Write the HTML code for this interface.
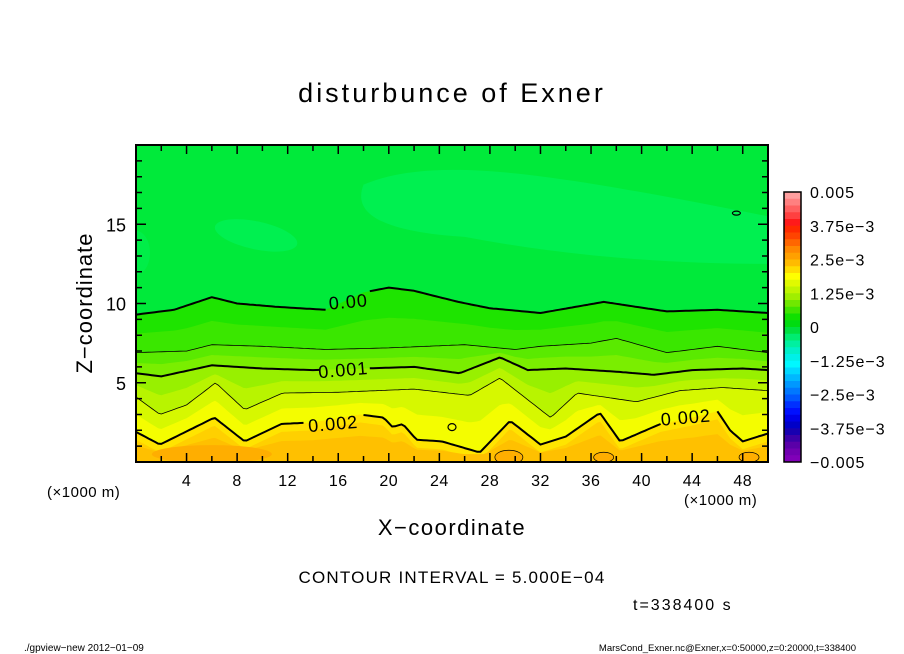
<!DOCTYPE html>
<html><head><meta charset="utf-8"><style>
html,body{margin:0;padding:0;background:#fff;}
svg{display:block;font-family:"Liberation Sans",sans-serif;}
</style></head><body>
<svg id="chart" width="904" height="654" viewBox="0 0 904 654" xmlns="http://www.w3.org/2000/svg">
<defs><clipPath id="pclip"><rect x="136" y="145" width="632" height="317"/></clipPath></defs>
<text x="452" y="102" font-size="27" text-anchor="middle" letter-spacing="3">disturbunce of Exner</text>
<g id="plot" clip-path="url(#pclip)"></g>
<g id="axes"></g>
<g id="cbar"></g>
<text transform="translate(92,303) rotate(-90)" font-size="22" text-anchor="middle" letter-spacing="1">Z−coordinate</text>
<text x="452" y="535" font-size="22" text-anchor="middle" letter-spacing="1.5">X−coordinate</text>
<text x="47" y="497" font-size="15" letter-spacing="0.5">(×1000 m)</text>
<text x="684" y="505" font-size="15" letter-spacing="0.5">(×1000 m)</text>
<text x="452" y="583" font-size="17" text-anchor="middle" letter-spacing="1.2">CONTOUR INTERVAL = 5.000E−04</text>
<text x="633" y="610" font-size="16" letter-spacing="2">t=338400 s</text>
<text x="24" y="651" font-size="10">./gpview−new  2012−01−09</text>
<text x="856" y="651" font-size="9.5" text-anchor="end">MarsCond_Exner.nc@Exner,x=0:50000,z=0:20000,t=338400</text>
</svg>
<script>
// contour line data (x in km, z in km)
const c000X = [0, 3, 6, 8, 11, 15, 18, 20, 22, 25.5, 28, 32, 37, 42, 46, 50];
const c000Z = [9.3, 9.6, 10.4, 10.0, 9.8, 9.6, 10.7, 11.0, 10.8, 10.1, 9.7, 9.4, 10.1, 9.5, 9.6, 9.4];
const c0005X = [0, 4, 6, 10, 15, 20, 26, 30, 32, 36, 38, 42, 46, 50];
const c0005Z = [6.9, 7.0, 7.4, 7.3, 7.1, 7.2, 7.4, 7.1, 7.3, 7.5, 7.8, 6.9, 7.3, 6.9];
const c001X = [0, 2, 6, 10, 14, 18, 22, 25.6, 28.8, 31, 34, 38, 41, 44, 48, 50];
const c001Z = [5.6, 5.4, 6.1, 5.9, 5.8, 5.9, 6.0, 5.6, 6.6, 5.8, 5.9, 5.7, 5.5, 5.8, 5.9, 5.8];
const c0015X = [0, 1.9, 4, 6.3, 8.6, 11.6, 16, 22, 26.4, 28.8, 32.8, 34.9, 39.6, 43, 46.4, 50];
const c0015Z = [4.1, 3.0, 3.6, 5.0, 3.3, 4.35, 4.4, 4.6, 4.2, 5.3, 2.8, 4.35, 3.8, 4.5, 4.7, 4.5];
const c002X = [0, 1.9, 6.2, 8.6, 11.5, 14, 17.7, 19.6, 20.3, 21.1, 22.2, 24.2, 27.2, 29.6, 32, 34, 36.7, 38.3, 41.5, 44, 46, 47, 48, 50];
const c002Z = [1.9, 1.1, 2.8, 1.3, 2.4, 2.5, 3.0, 2.8, 2.2, 2.4, 1.4, 1.3, 0.6, 2.6, 1.1, 1.6, 3.1, 1.3, 2.4, 2.8, 3.2, 2.0, 1.3, 1.8];
const labelText = ["0.00", "0.001", "0.002", "0.002"];
const labelX = [16.8, 16.4, 15.6, 43.5];
const labelZ = [10.1, 5.8, 2.4, 2.8];
const xTicks = [4, 8, 12, 16, 20, 24, 28, 32, 36, 40, 44, 48];
const zTicks = [5, 10, 15];
const cbLabels = ["0.005", "3.75e−3", "2.5e−3", "1.25e−3", "0", "−1.25e−3", "−2.5e−3", "−3.75e−3", "−0.005"];
const cbColors = ["#ff9f9f","#ff8080","#ff6060","#ff4040","#ff1a1a","#ff2a00","#ff4400","#ff6600",
  "#ff8800","#ffa000","#ffbb00","#ffdd00","#ffff00","#e0fa00","#c0f500","#a0ee00",
  "#70e800","#40e400","#10e000","#00dc10","#00e040","#00ec70","#00f0a0","#00f0c8",
  "#00f0e8","#00f8ff","#00d8ff","#00b8ff","#0098ff","#0078ff","#0058ff","#0030ff",
  "#0010ff","#0000e8","#0000c8","#1800b0","#3c00a8","#5a00a8","#7000b0","#8000b8"];

const NS = "http://www.w3.org/2000/svg";
const X0 = 136, X1 = 768, Y0 = 462, Y1 = 145;
const sx = v => X0 + (v / 50) * (X1 - X0);
const sz = v => Y0 - (v / 20) * (Y0 - Y1);
function interp(xa, za, x) {
  for (let i = 0; i < xa.length - 1; i++) {
    if (x <= xa[i + 1]) { const t = (x - xa[i]) / (xa[i + 1] - xa[i]); return za[i] + t * (za[i + 1] - za[i]); }
  }
  return za[za.length - 1];
}
function mk(tag, attrs, parent) { const e = document.createElementNS(NS, tag); for (const k in attrs) e.setAttribute(k, attrs[k]); parent.appendChild(e); return e; }
const plot = document.getElementById("plot");
const grid = []; for (let x = 0; x <= 50.001; x += 0.25) grid.push(x);
const lines = [[c000X, c000Z], [c0005X, c0005Z], [c001X, c001Z], [c0015X, c0015Z], [c002X, c002Z]];
const lf = l => x => interp(l[0], l[1], x);
const fns = lines.map(lf);

let bg = mk("rect", {x: X0, y: Y1, width: X1 - X0, height: Y0 - Y1, fill: "#00ea3a"}, plot);


let p1 = mk("path", {d: `M${sx(18)},${sz(17.5)} C${sx(24)},${sz(19.5)} ${sx(34)},${sz(18)} ${sx(50)},${sz(15.5)} L${sx(50)},${sz(12.5)} C${sx(42)},${sz(12.5)} ${sx(34)},${sz(13)} ${sx(26)},${sz(14.2)} C${sx(20)},${sz(14.5)} ${sx(17)},${sz(15.5)} ${sx(18)},${sz(17.5)} Z`, fill: "#00f050"}, plot);


let p2 = mk("ellipse", {cx: sx(9.5), cy: sz(14.3), rx: 42, ry: 14, fill: "#00f050", transform: `rotate(12 ${sx(9.5)} ${sz(14.3)})`}, plot);


let p4 = mk("ellipse", {cx: sx(0), cy: sz(13.2), rx: 14, ry: 22, fill: "#00ee48"}, plot);



function fillBelow(f, color, name) {
  let d = `M${sx(0)},${Y0}`;
  grid.forEach(x => { d += ` L${sx(x).toFixed(1)},${sz(f(x)).toFixed(1)}`; });
  d += ` L${sx(50)},${Y0} Z`;
  const p = mk("path", {d: d, fill: color}, plot);
  
  
}
const bandCols = [["#1ee400", "#3ae700"], ["#5aea00", "#7aee00"], ["#98f000", "#b8f400"], ["#d6f800", "#f4fd00"], ["#ffe400", "#ffd000"]];
fns.forEach((f, i) => {
  fillBelow(f, bandCols[i][0], "band-" + i + "-upper");
  const next = i < fns.length - 1 ? fns[i + 1] : (x => Math.max(0, f(x) - 1.0));
  fillBelow(x => 0.5 * (f(x) + next(x)), bandCols[i][1], "band-" + i + "-lower");
});
fillBelow(x => Math.max(0.5, fns[4](x) * 0.55), "#ffc000", "band-bottom-orange");
[[6, 0.5, 60, 9], [29.5, 0.3, 14, 7], [37, 0.3, 10, 5], [48.5, 0.3, 10, 5]].forEach(s => {
  const e = mk("ellipse", {cx: sx(s[0]), cy: sz(s[1]), rx: s[2], ry: s[3], fill: "#ffae00", stroke: s[2] < 20 ? "#000" : "none", "stroke-width": 0.7}, plot);
  
  
});

const widths = [2, 0.8, 2, 0.8, 2];
const gapMap = [[[15.2, 18.4]], [], [[14.6, 18.4]], [], [[13.4, 17.8], [41.6, 46.0]]];
fns.forEach((f, i) => {
  let d = "", pen = false;
  grid.forEach(x => {
    const inGap = gapMap[i].some(g => x > g[0] && x < g[1]);
    if (inGap) { pen = false; return; }
    d += (pen ? " L" : " M") + sx(x).toFixed(1) + "," + sz(f(x)).toFixed(1);
    pen = true;
  });
  const p = mk("path", {d: d, fill: "none", stroke: "#000", "stroke-width": widths[i], "stroke-linejoin": "round"}, plot);
  
  
});
labelText.forEach((t, i) => {
  const e = mk("text", {x: sx(labelX[i]), y: sz(labelZ[i]) + 6, "font-size": 18, "text-anchor": "middle", "letter-spacing": 1, transform: `rotate(-5 ${sx(labelX[i])} ${sz(labelZ[i])})`}, plot);
  e.textContent = t;
  
  
});
[[25, 2.2, 4, 3.5], [47.5, 15.7, 4, 2]].forEach(s => {
  const e = mk("ellipse", {cx: sx(s[0]), cy: sz(s[1]), rx: s[2], ry: s[3], fill: "none", stroke: "#000", "stroke-width": 1.2}, plot);
  
  
});

const axes = document.getElementById("axes");
const fr = mk("rect", {x: X0, y: Y1, width: X1 - X0, height: Y0 - Y1, fill: "none", stroke: "#000", "stroke-width": 2}, axes);


let td = "";
for (let x = 2; x < 50; x += 2) { const L = x % 4 === 0 ? 9 : 6; td += `M${sx(x)},${Y0}v${-L}M${sx(x)},${Y1}v${L}`; }
for (let z = 1; z < 20; z++) { const L = z % 5 === 0 ? 10 : 6; td += `M${X0},${sz(z)}h${L}M${X1},${sz(z)}h${-L}`; }
const tk = mk("path", {d: td, stroke: "#000", "stroke-width": 1.5, fill: "none"}, axes);


xTicks.forEach(v => {
  const t = mk("text", {x: sx(v), y: 486, "font-size": 16, "text-anchor": "middle", "letter-spacing": 0.5}, axes);
  t.textContent = v;
  
  
});
zTicks.forEach(v => {
  const t = mk("text", {x: 126, y: sz(v) + 7, "font-size": 18, "text-anchor": "end"}, axes);
  t.textContent = v;
  
  
});

const cb = document.getElementById("cbar");
const CB0 = 192, CB1 = 462, CX = 784, CW = 17;
const ch = (CB1 - CB0) / cbColors.length;
cbColors.forEach((c, i) => {
  const r = mk("rect", {x: CX, y: CB0 + i * ch, width: CW, height: ch + 0.5, fill: c}, cb);
  
  
});
const cf = mk("rect", {x: CX, y: CB0, width: CW, height: CB1 - CB0, fill: "none", stroke: "#000", "stroke-width": 1.5}, cb);


cbLabels.forEach((t, i) => {
  const y = CB0 + i * (CB1 - CB0) / (cbLabels.length - 1);
  const e = mk("text", {x: 810, y: y + 6, "font-size": 16, "letter-spacing": 1}, cb);
  e.textContent = t;
  
  
});
</script>
</body></html>
